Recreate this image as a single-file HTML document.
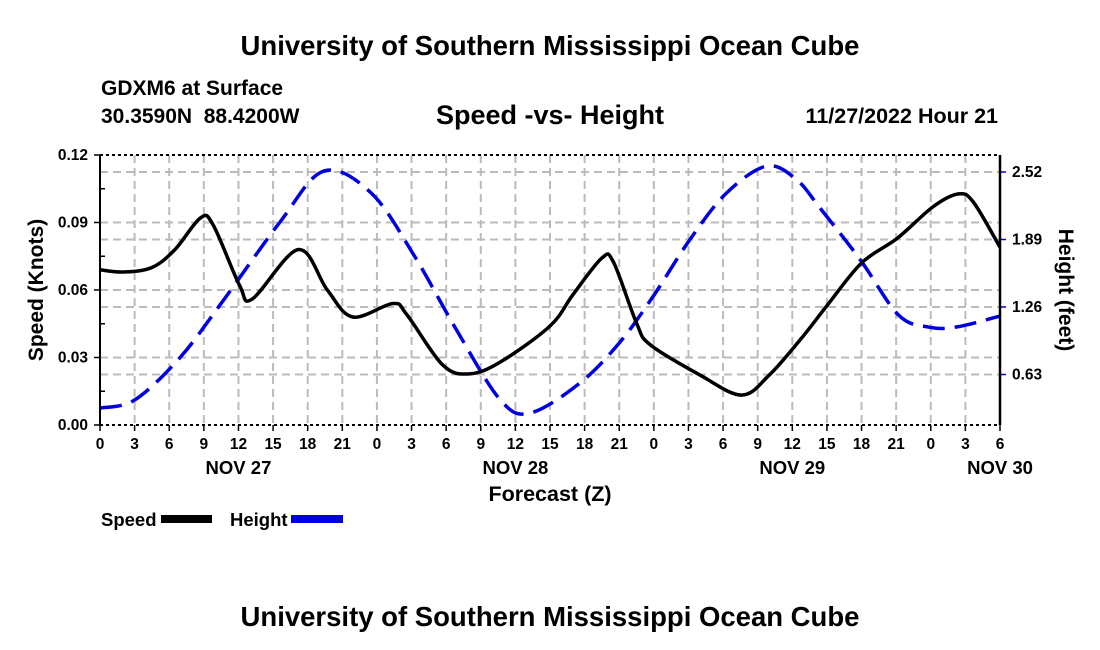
<!DOCTYPE html>
<html><head><meta charset="utf-8"><style>
html,body{margin:0;padding:0;background:#fff;}
svg{display:block;font-family:"Liberation Sans",Arial,sans-serif;font-weight:bold;}
</style></head><body>
<svg id="chart" width="1100" height="650" viewBox="0 0 1100 650">
<text x="550" y="55" text-anchor="middle" font-size="27.5">University of Southern Mississippi Ocean Cube</text>
<text x="101" y="95" font-size="21">GDXM6 at Surface</text>
<text x="101" y="123" font-size="21" style="white-space:pre">30.3590N  88.4200W</text>
<text x="550" y="124" text-anchor="middle" font-size="27">Speed -vs- Height</text>
<text x="998" y="123" text-anchor="end" font-size="21.5">11/27/2022 Hour 21</text>
<g id="grid"></g>
<g id="marks"></g>
<g id="axes"></g>
<text transform="translate(43,290) rotate(-90)" text-anchor="middle" font-size="21">Speed (Knots)</text>
<text transform="translate(1059,290) rotate(90)" text-anchor="middle" font-size="21">Height (feet)</text>
<text x="550" y="501" text-anchor="middle" font-size="21.5">Forecast (Z)</text>
<g>
<text x="101" y="526" font-size="18.5">Speed</text>
<rect x="161" y="515" width="51" height="8" fill="#000"/>
<text x="230" y="526" font-size="18.5">Height</text>
<rect x="291" y="515" width="52" height="8" fill="#0000dd"/>
</g>
<text x="550" y="626" text-anchor="middle" font-size="27.5">University of Southern Mississippi Ocean Cube</text>
</svg>
<script>
const speedHours=[0,2,4.5,6.5,8.7,9.8,12.1,13.2,17.2,19.7,21.9,25.4,26.6,29.7,32,34.7,39,41,43.5,44.5,46.5,47.7,52,55.6,58,60.7,63,66,69.1,72.2,74.4,75.7,78];
const speedValues=[.069,.068,.070,.078,.092,.089,.062,.056,.078,.060,.048,.054,.049,.0267,.0227,.028,.044,.058,.0742,.0724,.0453,.0356,.0222,.0133,.0222,.038,.053,.072,.083,.097,.1027,.099,.079];
const heightHours=[0,3,6.9,10.4,15.6,19.4,23.5,27.2,30.9,34.7,37.3,41.6,45,47.9,51.1,54.3,57.8,60.4,62.4,65.9,69.2,71.8,74.2,78];
const heightValues=[0.317,0.392,0.784,1.279,2.053,2.529,2.324,1.745,1.045,0.392,0.271,0.551,0.924,1.353,1.885,2.324,2.576,2.445,2.184,1.699,1.185,1.073,1.073,1.175];
const xTickLabels=["0","3","6","9","12","15","18","21","0","3","6","9","12","15","18","21","0","3","6","9","12","15","18","21","0","3","6"];
const dayLabels=["NOV 27","NOV 28","NOV 29","NOV 30"];
const dayHours=[12,36,60,78];
const yTicks=[0,0.03,0.06,0.09,0.12];
const y2Ticks=[0.63,1.26,1.89,2.52];

const L=100,R=1000,T=155,B=425,HMAX=78;
const x=h=>L+h*(R-L)/HMAX;
const y=v=>B-v*(B-T)/0.12;
const y2=v=>374.5-(v-0.63)*67.5/0.63;
const NS="http://www.w3.org/2000/svg";
function mk(tag,attrs,parent){const e=document.createElementNS(NS,tag);for(const k in attrs)e.setAttribute(k,attrs[k]);parent.appendChild(e);return e;}
const grid=document.getElementById('grid'),axes=document.getElementById('axes'),marks=document.getElementById('marks');
const gs={stroke:"#bbb","stroke-width":2,"stroke-dasharray":"8,5"};
xTickLabels.forEach((t,i)=>{const h=i*3;
 if(i>0&&i<xTickLabels.length-1){const g=mk('line',Object.assign({x1:x(h),x2:x(h),y1:T,y2:B},gs),grid);
 
 }
 const tk=mk('line',{x1:x(h),x2:x(h),y1:B,y2:B+6,stroke:"#000","stroke-width":1.5},axes);
 
 
 const tx=mk('text',{x:x(h),y:B+24,"text-anchor":"middle","font-size":15.5},axes);tx.textContent=t;
 
 
});
dayLabels.forEach((d,i)=>{const t=mk('text',{x:x(dayHours[i]),y:B+49,"text-anchor":"middle","font-size":18.5},axes);t.textContent=d;
 
 });
yTicks.forEach(v=>{
 if(v>0&&v<0.12){const g=mk('line',Object.assign({x1:L,x2:R,y1:y(v),y2:y(v)},gs),grid);
 
 }
 const t=mk('text',{x:L-12,y:y(v)+5,"text-anchor":"end","font-size":15.5},axes);t.textContent=v.toFixed(2);
 
 
 mk('line',{x1:L-6,x2:L,y1:y(v),y2:y(v),stroke:"#000","stroke-width":1.5},axes);
 if(v<0.12) mk('line',{x1:L,x2:L+5,y1:y(v+0.015),y2:y(v+0.015),stroke:"#000","stroke-width":1.5},axes);
});
y2Ticks.forEach(v=>{
 const g=mk('line',Object.assign({x1:L,x2:R,y1:y2(v),y2:y2(v)},gs),grid);
 
 
 mk('line',{x1:R,x2:R+6,y1:y2(v),y2:y2(v),stroke:"#0000dd","stroke-width":1.5},axes);
 const t=mk('text',{x:R+12,y:y2(v)+5,"font-size":15.5},axes);t.textContent=v.toFixed(2);
 
 
});
mk('line',{x1:L,x2:L,y1:T,y2:B,stroke:"#000","stroke-width":2},axes);
mk('line',{x1:R,x2:R,y1:T,y2:B,stroke:"#000","stroke-width":2.5},axes);
mk('line',{x1:L,x2:R,y1:T,y2:T,stroke:"#000","stroke-width":2,"stroke-dasharray":"3,3"},axes);
mk('line',{x1:L,x2:R,y1:B,y2:B,stroke:"#000","stroke-width":2,"stroke-dasharray":"3,3"},axes);
function smooth(pts){let d=`M${pts[0][0]},${pts[0][1]}`;
 for(let i=0;i<pts.length-1;i++){const p0=pts[Math.max(0,i-1)],p1=pts[i],p2=pts[i+1],p3=pts[Math.min(pts.length-1,i+2)];
 const c1=[p1[0]+(p2[0]-p0[0])/6,p1[1]+(p2[1]-p0[1])/6],c2=[p2[0]-(p3[0]-p1[0])/6,p2[1]-(p3[1]-p1[1])/6];
 d+=` C${c1[0]},${c1[1]} ${c2[0]},${c2[1]} ${p2[0]},${p2[1]}`;}return d;}
const hp=mk('path',{d:smooth(heightHours.map((h,i)=>[x(h),y2(heightValues[i])])),fill:"none",stroke:"#0000dd","stroke-width":3.5,"stroke-dasharray":"22,10"},marks);


const sp=mk('path',{d:smooth(speedHours.map((h,i)=>[x(h),y(speedValues[i])])),fill:"none",stroke:"#000","stroke-width":3.5},marks);


</script>
</body></html>
